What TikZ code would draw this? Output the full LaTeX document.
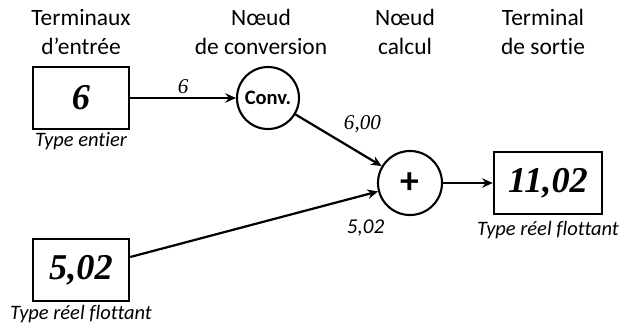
\documentclass[tikz,border=0pt]{standalone}
\usepackage{fontspec}
\setmainfont[RawFeature={-liga;-clig;-calt;-dlig}]{Carlito}
\newfontfamily\numfont{Liberation Serif}
\usetikzlibrary{positioning,arrows.meta}
\tikzset{
  termbox/.style={draw,line width=2.2pt,minimum width=2.88cm,minimum height=1.86cm,inner sep=0pt,font=\numfont\bfseries\itshape\fontsize{31}{31}\selectfont},
  opnode/.style={draw,circle,line width=1.8pt,inner sep=0pt},
  header/.style={align=center,font=\fontsize{20}{24.5}\selectfont},
  typelbl/.style={font=\itshape\fontsize{17.5}{20}\selectfont,inner sep=1pt},
  flow/.style={-{Stealth[length=9pt,width=8pt]},line width=1.9pt},
}
\begin{document}
\begin{tikzpicture}[x=0.03cm,y=0.03cm]
  \useasboundingbox(0,0)rectangle(619,328);
  % colonnes
  \node[header](h1)at(81,296){Terminaux\\d’entrée};
  \node[header](h2)at(261,296){Nœud\\de conversion};
  \node[header](h3)at(405,296){Nœud\\calcul};
  \node[header](h4)at(543,296){Terminal\\de sortie};
  % terminaux et noeuds
  \node[termbox](in6)at(81,230){6};
  \node[termbox](in502)at(81,58){5,02};
  \node[opnode,minimum size=1.86cm,font=\bfseries\fontsize{17.5}{17.5}\selectfont](conv)at(268,230){Conv.};
  \node[opnode,minimum size=1.92cm,font=\bfseries\fontsize{32}{32}\selectfont](plus)at(410,145){+};
  \node[termbox,minimum width=3.24cm](out)at(548,145){11,02};
  \node[typelbl,below=1pt of in6]{Type entier};
  \node[typelbl,below=1pt of in502]{Type réel flottant};
  \node[typelbl,below=4pt of out]{Type réel flottant};
  % liaisons
  \draw[flow](in6)--(conv)node[midway,above=-1pt,font=\numfont\itshape\fontsize{18}{18}\selectfont]{6};
  \draw[flow](conv)--(plus)node[pos=0.45,above right=0pt and 4pt,font=\numfont\itshape\fontsize{18}{18}\selectfont]{6,00};
  \draw[flow](in502)--(plus)node[pos=0.95,below=17pt,font=\itshape\fontsize{18}{18}\selectfont]{5,02};
  \draw[flow](plus)--(out);
\end{tikzpicture}
\end{document}
